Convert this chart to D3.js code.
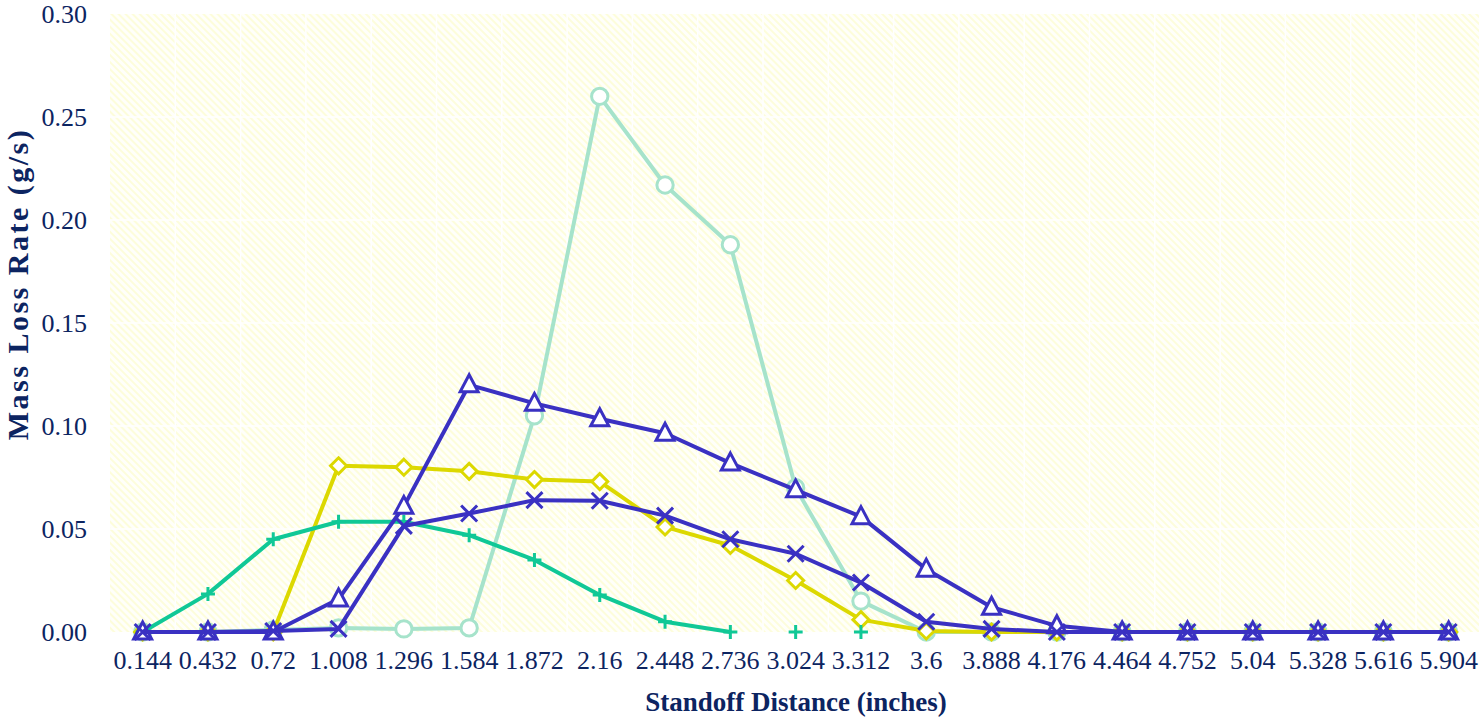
<!DOCTYPE html>
<html>
<head>
<meta charset="utf-8">
<script src="https://cdn.jsdelivr.net/npm/d3@7"></script>
<style>
  body { margin: 0; background: #fff; }
  svg { display: block; }
  svg text { font-family: "Liberation Serif", "Times New Roman", Times, serif; }
</style>
</head>
<body>
<div id="chart"></div>
<script>
// Standoff distances (x categories)
var distances = ["0.144", "0.432", "0.72", "1.008", "1.296", "1.584", "1.872", "2.16", "2.448", "2.736",
  "3.024", "3.312", "3.6", "3.888", "4.176", "4.464", "4.752", "5.04", "5.328", "5.616", "5.904"];

var yTicks = [0, 0.05, 0.10, 0.15, 0.20, 0.25, 0.30];

// mass loss rate series (g/s)
var circleVals = [0, 0, 0.001, 0.002, 0.0015, 0.002, 0.105, 0.260, 0.217, 0.188,
  0.070, 0.015, 0, 0, 0, 0, 0, 0, 0, 0, 0];
var diamondVals = [0, 0, 0, 0.0807, 0.080, 0.078, 0.074, 0.073, 0.051, 0.042,
  0.025, 0.006, 0.0005, 0, 0, 0, 0, 0, 0, 0, 0];
var plusVals = [0, 0.0185, 0.045, 0.0535, 0.0535, 0.047, 0.035, 0.018, 0.005, 0,
  0, 0, null, null, null, null, null, null, null, null, null];
var triangleVals = [0, 0, 0, 0.016, 0.061, 0.120, 0.111, 0.1035, 0.0965, 0.082,
  0.069, 0.056, 0.0305, 0.012, 0.003, 0, 0, 0, 0, 0, 0];
var crossVals = [0, 0, 0.0005, 0.0015, 0.0515, 0.0575, 0.064, 0.0637, 0.0565, 0.045,
  0.038, 0.024, 0.005, 0.0015, 0, 0, 0, 0, 0, 0, 0];

var W = 1479, H = 721;
var margin = { left: 110, top: 14, bottom: 89 };
var step = 65.3;
var plotW = step * distances.length;
var plotH = H - margin.top - margin.bottom;

var textColor = "#0c2461";

var svg = d3.select("#chart").append("svg")
  .attr("width", W)
  .attr("height", H);

// background stripes
var defs = svg.append("defs");
defs.append("pattern")
  .attr("id", "stripes")
  .attr("patternUnits", "userSpaceOnUse")
  .attr("width", 5)
  .attr("height", 5)
  .attr("patternTransform", "rotate(-45)")
  .call(function (p) {
    p.append("rect").attr("width", 5).attr("height", 5).attr("fill", "#fffffa");
    p.append("rect").attr("width", 2).attr("height", 5).attr("fill", "#fdfddb");
  });

var g = svg.append("g")
  .attr("transform", "translate(" + margin.left + "," + margin.top + ")");

var x = d3.scaleBand()
  .domain(distances)
  .range([0, plotW]);

var y = d3.scaleLinear()
  .domain([0, 0.30])
  .range([plotH, 0]);

g.append("rect")
  .attr("width", plotW)
  .attr("height", plotH)
  .attr("fill", "url(#stripes)");

// white grid
g.append("g").selectAll("line.v")
  .data(distances.slice(1))
  .enter().append("line")
  .attr("x1", function (d) { return x(d); })
  .attr("x2", function (d) { return x(d); })
  .attr("y1", 0).attr("y2", plotH)
  .attr("stroke", "#fff").attr("stroke-width", 1.5);

g.append("g").selectAll("line.h")
  .data(yTicks.slice(1, -1))
  .enter().append("line")
  .attr("x1", 0).attr("x2", plotW)
  .attr("y1", function (d) { return y(d); })
  .attr("y2", function (d) { return y(d); })
  .attr("stroke", "#fff").attr("stroke-width", 1.5);

// axes
var yAxis = g.append("g")
  .call(d3.axisLeft(y).tickValues(yTicks).tickFormat(d3.format(".2f")).tickSize(0).tickPadding(23));
var xAxis = g.append("g")
  .attr("transform", "translate(0," + plotH + ")")
  .call(d3.axisBottom(x).tickSize(0).tickPadding(19));

[xAxis, yAxis].forEach(function (a) {
  a.attr("font-family", null).attr("font-size", null);
  a.select(".domain").remove();
  a.selectAll("text")
    .attr("fill", textColor)
    .style("font-size", "26px");
});

// axis titles
svg.append("text")
  .attr("x", 796)
  .attr("y", 711)
  .attr("text-anchor", "middle")
  .attr("fill", textColor)
  .style("font-weight", "bold")
  .style("font-size", "27px")
  .text("Standoff Distance (inches)");

svg.append("text")
  .attr("transform", "translate(28," + 284 + ") rotate(-90)")
  .attr("text-anchor", "middle")
  .attr("fill", textColor)
  .style("font-weight", "bold")
  .style("font-size", "30px")
  .style("letter-spacing", "2.5px")
  .text("Mass Loss Rate (g/s)");

var cx = function (i) { return x(distances[i]) + x.bandwidth() / 2; };

function drawSeries(vals, color, marker, defined) {
  var pts = vals.map(function (v, i) { return { i: i, v: v }; });
  var line = d3.line()
    .defined(defined || function (d) { return d.v != null; })
    .x(function (d) { return cx(d.i); })
    .y(function (d) { return y(d.v); });

  g.append("path")
    .datum(pts)
    .attr("d", line)
    .attr("fill", "none")
    .attr("stroke", color)
    .attr("stroke-width", 4)
    .attr("stroke-linejoin", "round");

  g.append("g").selectAll("path")
    .data(pts.filter(function (d) { return d.v != null; }))
    .enter().append("path")
    .attr("transform", function (d) { return "translate(" + cx(d.i) + "," + y(d.v) + ")"; })
    .attr("d", marker.d)
    .attr("fill", marker.fill)
    .attr("stroke", color)
    .attr("stroke-width", 3);
}

var circle = { d: d3.symbol(d3.symbolCircle, 210)(), fill: "#fff" };
var diamond = { d: "M0,-8L8,0L0,8L-8,0Z", fill: "#fff" };
var plus = { d: "M-7,0H7M0,-7V7", fill: "none" };
var triangle = { d: "M0,-10L9,7L-9,7Z", fill: "#fff" };
var cross = { d: "M-8,-8L8,8M-8,8L8,-8", fill: "none" };

drawSeries(circleVals, "#a6e3cb", circle);
drawSeries(diamondVals, "#dcd800", diamond);
drawSeries(plusVals, "#10c896", plus, function (d) {
  if (d.v == null) return false;
  var prev = d.i > 0 ? plusVals[d.i - 1] : null;
  var next = plusVals[d.i + 1];
  return d.v > 0 || prev > 0 || next > 0;
});
drawSeries(triangleVals, "#3a31c2", triangle);
drawSeries(crossVals, "#3a31c2", cross);
</script>
</body>
</html>
